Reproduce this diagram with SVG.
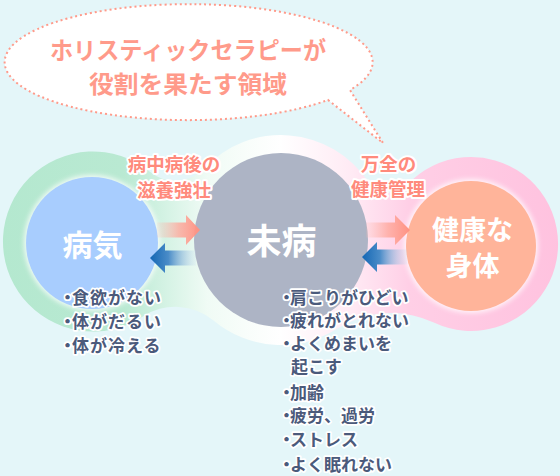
<svg xmlns="http://www.w3.org/2000/svg" width="560" height="476" viewBox="0 0 560 476">
  <defs>
    <linearGradient id="blobGrad" gradientUnits="userSpaceOnUse" x1="0" y1="0" x2="560" y2="0">
      <stop offset="0" stop-color="#b4e8cf"/>
      <stop offset="0.22" stop-color="#b9e9d2"/>
      <stop offset="0.3" stop-color="#d6f3e5"/>
      <stop offset="0.37" stop-color="#f0fbf5"/>
      <stop offset="0.5" stop-color="#ffffff"/>
      <stop offset="0.63" stop-color="#ffeaf4"/>
      <stop offset="0.73" stop-color="#ffcfe6"/>
      <stop offset="1" stop-color="#ffc2df"/>
    </linearGradient>
    <linearGradient id="pinkArrow" x1="0" y1="0" x2="1" y2="0">
      <stop offset="0" stop-color="#ffb8ae" stop-opacity="0.15"/>
      <stop offset="0.5" stop-color="#ffa598" stop-opacity="0.75"/>
      <stop offset="1" stop-color="#ff9080"/>
    </linearGradient>
    <linearGradient id="blueArrow" x1="0" y1="0" x2="1" y2="0">
      <stop offset="0" stop-color="#1467b4"/>
      <stop offset="0.4" stop-color="#4a8cc8"/>
      <stop offset="1" stop-color="#c8dcf0" stop-opacity="0.2"/>
    </linearGradient>
    <filter id="glow" x="-20%" y="-20%" width="140%" height="140%">
      <feGaussianBlur stdDeviation="2.5"/>
    </filter>
    <style>
      .jp { font-family: "Noto Sans CJK JP", "Noto Sans", sans-serif; font-weight: bold; }
      .bubbleText { fill: #ff9a8a; font-size: 24px; text-anchor: middle; }
      .lbl { fill: #ff8a7c; font-size: 18.5px; text-anchor: middle; stroke: #ffffff; stroke-width: 4; stroke-linejoin: round; paint-order: stroke; }
      .node { fill: #ffffff; text-anchor: middle; }
      .item { fill: #4b5a7b; font-size: 17px; stroke: #ffffff; stroke-width: 3.5; stroke-linejoin: round; paint-order: stroke; }
      .halo { fill: #ffffff; opacity: 0.8; filter: url(#glow); }
    </style>
  </defs>

  <rect width="560" height="476" fill="#e4f6f9"/>

  <g id="background-shape">
    <path fill="url(#blobGrad)" d="M149.9,171.8 A40,40 0 0 0 204.4,168.2 A105,105 0 0 1 368.2,181.6 A25,25 0 0 0 407.4,184.7 A87,87 0 1 1 433.8,322.6 A100,100 0 0 0 337.3,328.6 A105,105 0 0 1 213.8,320.7 A60,60 0 0 0 142.4,316.7 A90,90 0 1 1 149.9,171.8 Z"/>
  </g>

  <g id="bubble">
    <path d="M328,100 L383,143 L350,90 A184,58 0 1 0 328,100 Z" fill="#ffffff" stroke="#ff9a8a" stroke-width="2" stroke-dasharray="2 3"/>
    <text class="jp bubbleText" x="188" y="59" textLength="276" lengthAdjust="spacingAndGlyphs">ホリスティックセラピーが</text>
    <text class="jp bubbleText" x="188" y="93" textLength="198" lengthAdjust="spacingAndGlyphs">役割を果たす領域</text>
  </g>

  <g id="node-byouki">
    <circle class="halo" cx="92" cy="243" r="68"/>
    <circle cx="92" cy="243" r="66" fill="#a8cdfe"/>
    <text class="jp node" x="92.5" y="256" font-size="30">病気</text>
  </g>

  <g id="node-mibyou">
    <circle cx="281" cy="240" r="87" fill="#adb4c5"/>
    <text class="jp node" x="281.5" y="254" font-size="35">未病</text>
  </g>

  <g id="node-kenkou">
    <circle class="halo" cx="471" cy="246" r="67"/>
    <circle cx="471" cy="246" r="65" fill="#ffb49a"/>
    <text class="jp node" x="472.5" y="240" font-size="27">健康な</text>
    <text class="jp node" x="472.5" y="276" font-size="27">身体</text>
  </g>

  <g id="connectors">
    <path d="M157,222.5 H186 V215 L200,230 L186,245 V237.5 H157 Z" fill="url(#pinkArrow)"/>
    <path d="M150,258 L165,243 V250.5 H196 V265.5 H165 V273 Z" fill="url(#blueArrow)"/>
    <path d="M366,222.5 H395 V215 L410,230 L395,245 V237.5 H366 Z" fill="url(#pinkArrow)"/>
    <path d="M362,257 L377,242 V249.5 H407 V264.5 H377 V272 Z" fill="url(#blueArrow)"/>
  </g>

  <g id="labels">
    <text class="jp lbl" x="174" y="171">病中病後の</text>
    <text class="jp lbl" x="174" y="197">滋養強壮</text>
    <text class="jp lbl" x="388.5" y="171">万全の</text>
    <text class="jp lbl" x="388" y="196">健康管理</text>
  </g>

  <g id="symptoms-byouki">
    <text class="jp item" x="59" y="304" letter-spacing="1"><tspan letter-spacing="-4">・</tspan>食欲がない</text>
    <text class="jp item" x="59" y="328" letter-spacing="1"><tspan letter-spacing="-4">・</tspan>体がだるい</text>
    <text class="jp item" x="59" y="352" letter-spacing="1"><tspan letter-spacing="-4">・</tspan>体が冷える</text>
  </g>

  <g id="symptoms-mibyou">
    <text class="jp item" x="278" y="304"><tspan letter-spacing="-5">・</tspan>肩こりがひどい</text>
    <text class="jp item" x="278" y="327"><tspan letter-spacing="-5">・</tspan>疲れがとれない</text>
    <text class="jp item" x="278" y="350"><tspan letter-spacing="-5">・</tspan>よくめまいを</text>
    <text class="jp item" x="291" y="373">起こす</text>
    <text class="jp item" x="278" y="399"><tspan letter-spacing="-5">・</tspan>加齢</text>
    <text class="jp item" x="278" y="422"><tspan letter-spacing="-5">・</tspan>疲労、過労</text>
    <text class="jp item" x="278" y="446"><tspan letter-spacing="-5">・</tspan>ストレス</text>
    <text class="jp item" x="278" y="471"><tspan letter-spacing="-5">・</tspan>よく眠れない</text>
  </g>
</svg>
